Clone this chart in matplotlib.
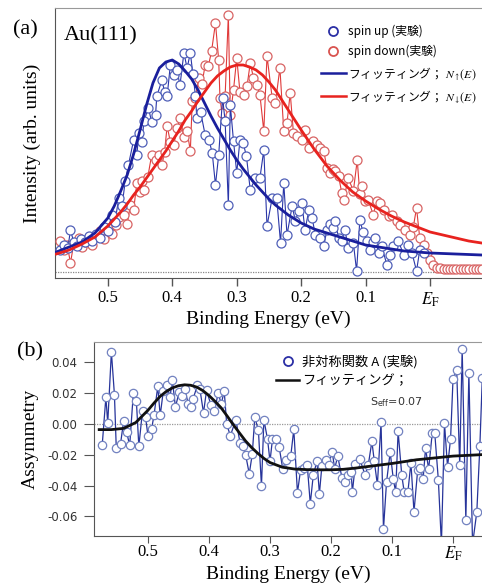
import matplotlib
matplotlib.use("Agg")
import matplotlib.pyplot as plt
from matplotlib.font_manager import FontProperties
from matplotlib.lines import Line2D

plt.rcParams['font.family'] = ['Liberation Serif', 'Noto Sans CJK JP']
plt.rcParams['mathtext.fontset'] = 'stix'

# ---- (a) spin resolved spectra ----
up_E = [0.574, 0.568, 0.562, 0.558, 0.553, 0.548, 0.542, 0.536, 0.530, 0.524,
        0.518, 0.512, 0.506, 0.500, 0.494, 0.489, 0.483, 0.478, 0.473, 0.468,
        0.460, 0.455, 0.452, 0.447, 0.444, 0.437, 0.432, 0.426, 0.424, 0.416,
        0.412, 0.408, 0.403, 0.398, 0.393, 0.388, 0.382, 0.377, 0.372, 0.368,
        0.364, 0.362, 0.356, 0.349, 0.343, 0.338, 0.333, 0.328, 0.322, 0.318,
        0.313, 0.310, 0.305, 0.300, 0.295, 0.290, 0.285, 0.279, 0.271, 0.264,
        0.258, 0.253, 0.245, 0.238, 0.232, 0.227, 0.222, 0.214, 0.209, 0.204,
        0.199, 0.194, 0.188, 0.183, 0.178, 0.171, 0.165, 0.160, 0.155, 0.150,
        0.147, 0.142, 0.137, 0.132, 0.127, 0.119, 0.114, 0.109, 0.104, 0.098,
        0.093, 0.088, 0.085, 0.080, 0.075, 0.067, 0.062, 0.057, 0.049, 0.041,
        0.034, 0.028, 0.021, 0.016, 0.010]
up_I = [0.22, 0.27, 0.24, 0.42, 0.30, 0.26, 0.33, 0.30, 0.36, 0.31,
        0.38, 0.34, 0.45, 0.41, 0.57, 0.50, 0.74, 0.66, 0.91, 1.07,
        1.32, 1.17, 1.39, 1.30, 1.51, 1.64, 1.50, 1.57, 1.76, 1.92,
        1.80, 1.76, 2.07, 1.97, 2.02, 1.87, 2.19, 2.04, 2.19, 1.98,
        1.76, 1.54, 1.60, 1.37, 1.32, 1.19, 0.87, 1.17, 1.74, 1.51,
        0.67, 1.67, 1.31, 0.99, 1.32, 1.29, 1.16, 0.82, 0.94, 0.94,
        1.22, 0.46, 0.74, 0.74, 0.29, 0.89, 0.37, 0.66, 0.51, 0.61,
        0.69, 0.42, 0.62, 0.54, 0.37, 0.34, 0.26, 0.42, 0.48, 0.44,
        0.51, 0.34, 0.31, 0.42, 0.24, 0.29, 0.01, 0.52, 0.40, 0.31,
        0.22, 0.30, 0.34, 0.19, 0.26, 0.07, 0.17, 0.26, 0.31, 0.17,
        0.27, 0.19, 0.01, 0.22, 0.19]

down_E = [0.574, 0.568, 0.563, 0.558, 0.553, 0.545, 0.540, 0.535, 0.530, 0.524,
          0.518, 0.512, 0.506, 0.500, 0.494, 0.488, 0.482, 0.475, 0.470, 0.465,
          0.460, 0.455, 0.450, 0.447, 0.444, 0.438, 0.432, 0.426, 0.421, 0.416,
          0.412, 0.408, 0.403, 0.398, 0.392, 0.388, 0.382, 0.377, 0.372, 0.369,
          0.364, 0.359, 0.354, 0.349, 0.344, 0.339, 0.333, 0.328, 0.326, 0.323,
          0.318, 0.313, 0.310, 0.305, 0.300, 0.295, 0.289, 0.284, 0.279, 0.274,
          0.269, 0.264, 0.258, 0.253, 0.245, 0.240, 0.233, 0.227, 0.222, 0.217,
          0.212, 0.207, 0.199, 0.194, 0.188, 0.181, 0.176, 0.171, 0.165, 0.160,
          0.155, 0.150, 0.147, 0.142, 0.137, 0.134, 0.127, 0.119, 0.113, 0.109,
          0.106, 0.101, 0.096, 0.088, 0.083, 0.078, 0.072, 0.064, 0.059, 0.052,
          0.046, 0.039, 0.031, 0.026, 0.021, 0.016, 0.010, 0.005, 0.000, -0.005,
          -0.011, -0.016, -0.021, -0.026, -0.031, -0.036, -0.041, -0.046, -0.051,
          -0.056, -0.061, -0.066, -0.071, -0.076, -0.081]
down_I = [0.31, 0.22, 0.27, 0.09, 0.28, 0.34, 0.25, 0.30, 0.34, 0.27,
          0.37, 0.41, 0.33, 0.44, 0.38, 0.47, 0.55, 0.57, 0.48, 0.67,
          0.62, 0.89, 0.80, 0.91, 0.82, 0.95, 1.17, 1.12, 1.17, 1.07,
          1.20, 1.46, 1.30, 1.27, 1.44, 1.54, 1.35, 1.41, 1.21, 1.71,
          1.74, 1.94, 1.88, 2.07, 2.06, 2.21, 2.49, 2.12, 1.74, 1.59,
          1.76, 2.57, 1.57, 1.82, 2.14, 1.80, 1.77, 1.86, 2.09, 1.94,
          1.87, 1.77, 1.41, 2.16, 1.74, 1.69, 2.04, 1.41, 1.49, 1.79,
          1.39, 1.36, 1.32, 1.42, 1.24, 1.31, 1.27, 1.24, 1.21, 1.04,
          0.99, 1.03, 1.01, 0.96, 0.79, 0.72, 0.94, 0.81, 1.12, 0.78,
          0.86, 0.71, 0.72, 0.57, 0.71, 0.69, 0.62, 0.56, 0.57, 0.51,
          0.47, 0.42, 0.37, 0.45, 0.64, 0.34, 0.27, 0.19, 0.12, 0.07,
          0.04, 0.04, 0.035, 0.035, 0.03, 0.035, 0.03, 0.035, 0.03,
          0.035, 0.03, 0.035, 0.03, 0.035, 0.03]

fit_E = [0.58, 0.56, 0.54, 0.52, 0.50, 0.49, 0.48, 0.47, 0.46, 0.45,
         0.44, 0.43, 0.42, 0.41, 0.40, 0.39, 0.38, 0.37, 0.36, 0.35,
         0.34, 0.33, 0.32, 0.31, 0.30, 0.29, 0.28, 0.27, 0.26, 0.25,
         0.24, 0.23, 0.22, 0.21, 0.20, 0.18, 0.16, 0.14, 0.12, 0.10,
         0.08, 0.06, 0.04, 0.02, 0.00, -0.02, -0.04, -0.06, -0.08]
fit_up = [0.20, 0.25, 0.30, 0.39, 0.54, 0.66, 0.81, 0.97, 1.18, 1.42,
          1.67, 1.89, 2.04, 2.10, 2.12, 2.08, 2.01, 1.93, 1.82, 1.69,
          1.56, 1.44, 1.33, 1.22, 1.12, 1.03, 0.95, 0.87, 0.80, 0.73,
          0.67, 0.62, 0.57, 0.53, 0.49, 0.43, 0.39, 0.35, 0.31, 0.27,
          0.25, 0.23, 0.21, 0.20, 0.19, 0.185, 0.18, 0.175, 0.17]
fit_down = [0.18, 0.22, 0.28, 0.35, 0.46, 0.53, 0.60, 0.68, 0.77, 0.85,
            0.94, 1.03, 1.12, 1.21, 1.31, 1.41, 1.52, 1.61, 1.71, 1.80,
            1.89, 1.96, 2.01, 2.05, 2.07, 2.07, 2.05, 2.02, 1.97, 1.90,
            1.82, 1.72, 1.62, 1.52, 1.42, 1.23, 1.06, 0.92, 0.80, 0.71,
            0.63, 0.56, 0.50, 0.45, 0.40, 0.37, 0.34, 0.31, 0.29]

# ---- (b) asymmetry ----
asym_E = [0.575, 0.569, 0.566, 0.560, 0.555, 0.552, 0.545, 0.540, 0.535, 0.530,
          0.524, 0.519, 0.515, 0.509, 0.504, 0.500, 0.494, 0.490, 0.484, 0.480,
          0.475, 0.469, 0.464, 0.460, 0.455, 0.449, 0.445, 0.440, 0.434, 0.430,
          0.426, 0.419, 0.415, 0.409, 0.404, 0.397, 0.391, 0.385, 0.380, 0.375,
          0.371, 0.365, 0.356, 0.349, 0.345, 0.340, 0.334, 0.329, 0.325, 0.319,
          0.314, 0.310, 0.304, 0.300, 0.296, 0.290, 0.285, 0.279, 0.274, 0.266,
          0.261, 0.255, 0.250, 0.244, 0.239, 0.234, 0.229, 0.223, 0.219, 0.215,
          0.209, 0.204, 0.198, 0.194, 0.189, 0.182, 0.177, 0.172, 0.167, 0.165,
          0.160, 0.153, 0.144, 0.139, 0.133, 0.129, 0.124, 0.118, 0.114, 0.109,
          0.103, 0.098, 0.094, 0.090, 0.084, 0.080, 0.074, 0.069, 0.064, 0.058,
          0.054, 0.049, 0.045, 0.040, 0.034, 0.030, 0.024, 0.019, 0.014, 0.009,
          0.004, 0.000, -0.006, -0.011, -0.015, -0.021, -0.026, -0.032, -0.039,
          -0.044, -0.048]
asym_A = [-0.0134, 0.0175, 0.0006, 0.0468, 0.0190, -0.0156, -0.0128, 0.0017, -0.0052, -0.0139,
          0.0203, 0.0147, -0.0145, 0.0088, 0.0045, -0.0078, -0.0030, 0.0061, 0.0244, 0.0056,
          0.0212, 0.0255, 0.0175, 0.0284, 0.0110, 0.0208, 0.0182, 0.0229, 0.0132, 0.0110,
          0.0165, 0.0251, 0.0229, 0.0073, 0.0219, 0.0126, 0.0082, 0.0203, 0.0132, 0.0212,
          0.0000, -0.0076, 0.0028, -0.0124, -0.0143, -0.0199, -0.0323, -0.0193, 0.0045, -0.0041,
          -0.0403, 0.0028, -0.0100, -0.0242, -0.0100, -0.0100, -0.0149, -0.0294, -0.0236, -0.0208,
          -0.0035, -0.0446, -0.0301, -0.0286, -0.0264, -0.0517, -0.0329, -0.0242, -0.0452, -0.0273,
          -0.0236, -0.0264, -0.0182, -0.0290, -0.0208, -0.0351, -0.0377, -0.0333, -0.0310, -0.0442,
          -0.0258, -0.0225, -0.0333, -0.0268, -0.0113, -0.0242, -0.0394, 0.0011, -0.0684, -0.0377,
          -0.0182, -0.0355, -0.0442, -0.0048, -0.0333, -0.0442, -0.0442, -0.0251, -0.0571, -0.0301,
          -0.0286, -0.0355, -0.0156, -0.0294, -0.0056, -0.0056, -0.0366, -0.078, 0.0006, -0.0279,
          -0.0095, 0.0292, 0.0350, -0.0268, 0.0489, -0.0626, 0.0329, -0.078, -0.0571,
          -0.0143, 0.0300]

afit_E = [0.58, 0.56, 0.54, 0.52, 0.50, 0.49, 0.48, 0.47, 0.46, 0.45,
          0.44, 0.43, 0.42, 0.41, 0.40, 0.39, 0.38, 0.37, 0.36, 0.35,
          0.34, 0.33, 0.32, 0.31, 0.30, 0.28, 0.26, 0.24, 0.22, 0.20,
          0.18, 0.16, 0.14, 0.12, 0.10, 0.08, 0.06, 0.04, 0.02, 0.00,
          -0.02, -0.05]
afit_A = [-0.0036, -0.0036, -0.0028, 0.0010, 0.0090, 0.0137, 0.0180, 0.0212, 0.0235, 0.0249,
          0.0255, 0.0252, 0.0240, 0.0217, 0.0185, 0.0147, 0.0105, 0.0051, -0.0005, -0.0058,
          -0.0110, -0.0153, -0.0190, -0.0223, -0.0250, -0.0280, -0.0292, -0.0296, -0.0297, -0.0297,
          -0.0294, -0.0286, -0.0276, -0.0266, -0.0256, -0.0244, -0.0232, -0.0224, -0.0216, -0.0208,
          -0.0204, -0.0198]

xticks = [0.5, 0.4, 0.3, 0.2, 0.1, 0.0]
xticklabels = ['0.5', '0.4', '0.3', '0.2', '0.1', r'$E_{\mathrm{F}}$']

W, H = 482, 585
fig = plt.figure(figsize=(W / 100, H / 100), dpi=100)

def box(l, t, r, b):
    return [l / W, 1 - b / H, (r - l) / W, (b - t) / H]

spine_c = '#555555'

# top panel
ax = fig.add_axes(box(55, 8, 482, 278))
ax.axhline(0, color='#888888', lw=0.9, ls=(0, (1, 1)), zorder=1)
ax.plot(down_E, down_I, '-', color='#e03a3a', lw=0.8, zorder=2)
ax.plot(down_E, down_I, 'o', mfc='white', mec='#d86464', ms=6.5, mew=0.9, zorder=3)
ax.plot(up_E, up_I, '-', color='#2a36a8', lw=0.8, zorder=4)
ax.plot(up_E, up_I, 'o', mfc='white', mec='#5060b8', ms=6.5, mew=0.9, zorder=5)
ax.plot(fit_E, fit_up, '-', color='#1a1f9c', lw=2, zorder=6)
ax.plot(fit_E, fit_down, '-', color='#e8231f', lw=2, zorder=6)
ax.set_xlim(0.582, -0.0806)
ax.set_ylim(-0.06, 2.64)
ax.set_yticks([])
ax.set_xticks(xticks)
ax.set_xticklabels(xticklabels)
ax.tick_params(axis='x', direction='out', length=6, width=1, color=spine_c,
               labelsize=12, pad=3)
for s in ['left', 'bottom', 'top']:
    ax.spines[s].set_color(spine_c)
ax.spines['right'].set_visible(False)
ax.spines['top'].set_color('#999999')
ax.set_xlabel('Binding Energy (eV)', fontsize=14, labelpad=1)
ax.set_ylabel('Intensity (arb. units)', fontsize=14, labelpad=10)
ax.text(0.02, 0.895, 'Au(111)', transform=ax.transAxes, fontsize=16, va='center')

cjk = ['Noto Sans CJK JP', 'DejaVu Sans']
prop_a = FontProperties(family=cjk, size=8.5, math_fontfamily='stix')
h_a = [Line2D([], [], ls='none', marker='o', mfc='white', mec='#2b2fa5', ms=6.5, mew=1.3),
       Line2D([], [], ls='none', marker='o', mfc='white', mec='#d9534f', ms=6.5, mew=1.3),
       Line2D([], [], color='#1a1f9c', lw=1.8),
       Line2D([], [], color='#e8231f', lw=1.8)]
l_a = ['spin up (実験)', 'spin down(実験)',
       r'フィッティング； $N_{\uparrow}(E)$', r'フィッティング； $N_{\downarrow}(E)$']
fig.legend(h_a, l_a, loc='upper left', bbox_to_anchor=(321 / W, 1 - 25 / H),
           frameon=False, prop=prop_a, handlelength=2.1, handletextpad=0.15,
           labelspacing=0.55, borderpad=0, borderaxespad=0)
fig.text(13 / W, 1 - 30 / H, '(a)', fontsize=16, va='center')

# bottom panel
bx = fig.add_axes(box(94, 342, 482, 536))
bx.axhline(0, color='#999999', lw=0.9, ls=(0, (1, 1)), zorder=1)
bx.plot(asym_E, asym_A, '-', color='#27349a', lw=0.9, zorder=2)
bx.plot(asym_E, asym_A, 'o', mfc='white', mec='#7282c0', ms=6, mew=0.9, zorder=3)
bx.plot(afit_E, afit_A, '-', color='#111111', lw=2, zorder=4)
bx.set_xlim(0.5885, -0.0475)
bx.set_ylim(-0.0727, 0.0533)
bx.set_xticks(xticks)
bx.set_xticklabels(xticklabels)
bx.set_yticks([0.04, 0.02, 0.00, -0.02, -0.04, -0.06])
bx.set_yticklabels(['0.04', '0.02', '0.00', '-0.02', '-0.04', '-0.06'],
                   fontfamily='DejaVu Sans', fontsize=8.5)
bx.tick_params(axis='x', direction='out', length=5, color=spine_c, labelsize=12, pad=1)
bx.tick_params(axis='y', direction='out', length=7, color=spine_c, pad=5, labelcolor='#333333')
for s in ['left', 'bottom', 'top']:
    bx.spines[s].set_color(spine_c)
bx.spines['right'].set_visible(False)
bx.spines['top'].set_color('#999999')
bx.set_xlabel('Binding Energy (eV)', fontsize=14, labelpad=2)
bx.set_ylabel('Assymmetry', fontsize=14, labelpad=6)

prop_b = FontProperties(family=cjk, size=9.5)
h_b = [Line2D([], [], ls='none', marker='o', mfc='white', mec='#2b2fa5', ms=6.5, mew=1.3),
       Line2D([], [], color='#111111', lw=1.8)]
l_b = ['非対称関数 A (実験)', 'フィッティング；']
fig.legend(h_b, l_b, loc='upper left', bbox_to_anchor=(276 / W, 1 - 355 / H),
           frameon=False, prop=prop_b, handlelength=1.75, handletextpad=0.2,
           labelspacing=0.45, borderpad=0, borderaxespad=0)
fig.text(370 / W, 1 - 402 / H, r'S$_{\mathrm{eff}}$=0.07', fontfamily='DejaVu Sans',
         fontsize=8, va='center', math_fontfamily='dejavusans', color='#333333')
fig.text(17 / W, 1 - 352 / H, '(b)', fontsize=16, va='center')

fig.savefig('out.png', dpi=100)
